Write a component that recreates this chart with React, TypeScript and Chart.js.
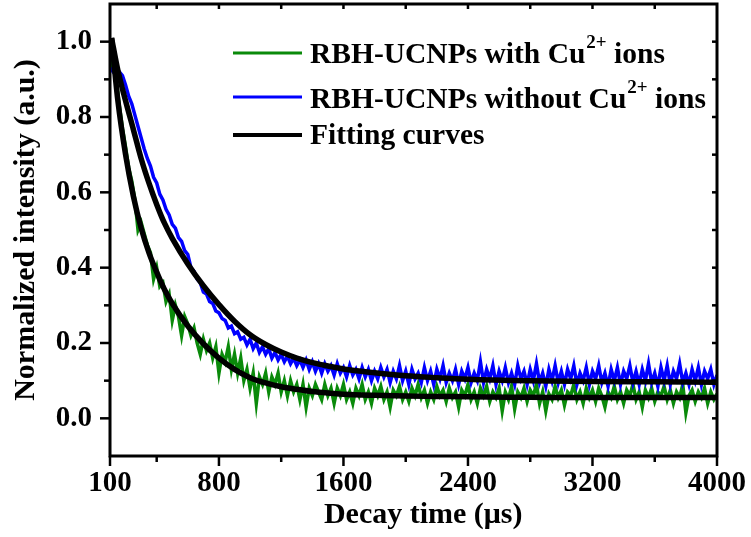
import React, { useEffect, useRef } from "react";
import { Chart, registerables } from "chart.js";

Chart.register(...registerables);

// sampling grid of the measured decays (µs)
const T_START = 100;
const T_STEP = 20;

// RBH-UCNPs with Cu2+ ions (green)
const GREEN_DATA = [
  0.95, 0.93, 0.9, 0.83, 0.77, 0.72, 0.665, 0.63, 0.58, 0.5,
  0.52, 0.49, 0.46, 0.44, 0.37, 0.4, 0.35, 0.36, 0.31, 0.33,
  0.26, 0.3, 0.27, 0.22, 0.27, 0.25, 0.22, 0.24, 0.2, 0.17,
  0.21, 0.18, 0.2, 0.16, 0.19, 0.12, 0.17, 0.15, 0.19, 0.13,
  0.17, 0.12, 0.16, 0.1, 0.13, 0.08, 0.12, 0.04, 0.11, 0.09,
  0.12, 0.07, 0.11, 0.09, 0.12, 0.07, 0.1, 0.06, 0.1, 0.07,
  0.09, 0.05, 0.09, 0.03, 0.08, 0.06, 0.09, 0.07, 0.05, 0.09,
  0.06, 0.08, 0.04, 0.08, 0.06, 0.09, 0.05, 0.07, 0.04, 0.08,
  0.06, 0.09, 0.05, 0.07, 0.04, 0.08, 0.06, 0.085, 0.05, 0.07,
  0.03, 0.075, 0.06, 0.085, 0.05, 0.07, 0.045, 0.08, 0.06, 0.09,
  0.055, 0.075, 0.04, 0.07, 0.05, 0.085, 0.06, 0.075, 0.045, 0.08,
  0.055, 0.07, 0.03, 0.075, 0.06, 0.09, 0.05, 0.07, 0.04, 0.08,
  0.06, 0.085, 0.045, 0.07, 0.055, 0.08, 0.02, 0.07, 0.05, 0.085,
  0.025, 0.07, 0.055, 0.08, 0.045, 0.075, 0.06, 0.09, 0.04, 0.07,
  0.02, 0.065, 0.05, 0.085, 0.055, 0.075, 0.035, 0.07, 0.06, 0.09,
  0.05, 0.07, 0.04, 0.08, 0.055, 0.075, 0.045, 0.08, 0.06, 0.03,
  0.07, 0.055, 0.085, 0.05, 0.07, 0.04, 0.075, 0.06, 0.09, 0.05,
  0.07, 0.03, 0.075, 0.055, 0.08, 0.045, 0.07, 0.06, 0.085, 0.05,
  0.075, 0.04, 0.07, 0.055, 0.09, 0.015, 0.06, 0.075, 0.045, 0.07,
  0.055, 0.08, 0.04, 0.07, 0.05, 0.065,
];

// RBH-UCNPs without Cu2+ ions (blue)
const BLUE_DATA = [
  0.93, 0.92, 0.93, 0.92, 0.91, 0.885, 0.855, 0.835, 0.805, 0.775,
  0.745, 0.715, 0.69, 0.67, 0.64, 0.625, 0.595, 0.58, 0.555, 0.54,
  0.515, 0.505, 0.48, 0.47, 0.445, 0.435, 0.4, 0.39, 0.37, 0.36,
  0.335, 0.33, 0.31, 0.305, 0.285, 0.28, 0.265, 0.26, 0.24, 0.245,
  0.225, 0.23, 0.21, 0.215, 0.195, 0.21, 0.185, 0.2, 0.175, 0.19,
  0.17, 0.185, 0.16, 0.175, 0.155, 0.17, 0.15, 0.165, 0.145, 0.16,
  0.14, 0.155, 0.135, 0.155, 0.13, 0.15, 0.125, 0.145, 0.12, 0.145,
  0.125, 0.14, 0.115, 0.145, 0.12, 0.135, 0.11, 0.14, 0.115, 0.13,
  0.105, 0.135, 0.11, 0.13, 0.1, 0.125, 0.105, 0.135, 0.11, 0.13,
  0.095, 0.125, 0.105, 0.14, 0.1, 0.125, 0.09, 0.13, 0.105, 0.12,
  0.095, 0.135, 0.1, 0.125, 0.09, 0.13, 0.105, 0.14, 0.095, 0.12,
  0.1, 0.13, 0.09, 0.125, 0.105, 0.135, 0.095, 0.12, 0.1, 0.15,
  0.095, 0.13, 0.105, 0.14, 0.09, 0.125, 0.1, 0.135, 0.095, 0.12,
  0.09, 0.14, 0.105, 0.125, 0.09, 0.13, 0.1, 0.145, 0.095, 0.12,
  0.085, 0.13, 0.1, 0.14, 0.095, 0.125, 0.09, 0.13, 0.105, 0.14,
  0.09, 0.12, 0.1, 0.135, 0.09, 0.125, 0.105, 0.14, 0.095, 0.12,
  0.085, 0.13, 0.1, 0.135, 0.09, 0.125, 0.105, 0.14, 0.095, 0.125,
  0.09, 0.13, 0.1, 0.145, 0.095, 0.12, 0.085, 0.135, 0.1, 0.14,
  0.09, 0.125, 0.105, 0.145, 0.095, 0.12, 0.09, 0.13, 0.1, 0.135,
  0.09, 0.125, 0.105, 0.13, 0.09, 0.115,
];

// Fitting curves
const FIT_T = [110, 150, 200, 250, 300, 350, 400, 450, 500, 600, 700, 800, 900, 1000, 1100, 1200, 1300, 1400, 1500, 1600, 1800, 2000, 2200, 2400, 2800, 3200, 3600, 4000];
const FIT_GREEN = [1.01, 0.845, 0.7, 0.59, 0.505, 0.44, 0.388, 0.342, 0.305, 0.245, 0.198, 0.16, 0.13, 0.108, 0.094, 0.084, 0.077, 0.071, 0.067, 0.064, 0.061, 0.059, 0.058, 0.057, 0.056, 0.055, 0.055, 0.055];
const FIT_BLUE = [1.01, 0.925, 0.843, 0.767, 0.69, 0.625, 0.568, 0.518, 0.478, 0.41, 0.352, 0.302, 0.258, 0.222, 0.196, 0.176, 0.16, 0.148, 0.139, 0.131, 0.121, 0.113, 0.108, 0.104, 0.1, 0.098, 0.097, 0.096];

const X_TICKS = [100, 800, 1600, 2400, 3200, 4000];
const X_MINOR_TICKS = [400, 1200, 2000, 2800, 3600];
const X_TOP_TICKS = [400, 800, 1200, 1600, 2000, 2400, 2800, 3200, 3600];
const Y_TICKS = [0, 0.2, 0.4, 0.6, 0.8, 1.0];
const Y_MINOR_TICKS = [0.1, 0.3, 0.5, 0.7, 0.9];
const Y_RIGHT_TICKS = [0, 0.1, 0.2, 0.3, 0.4, 0.5, 0.6, 0.7, 0.8, 0.9, 1.0];

const X_TITLE = "Decay time (μs)";
const Y_TITLE = "Normalized intensity (a.u.)";

const GREEN = "#0a8a0a";
const BLUE = "#0000ff";
const SERIF = '"Liberation Serif", "Times New Roman", serif';

const LEGEND_ROWS = [
  { color: GREEN, width: 3, parts: ["RBH-UCNPs with Cu", "2+", " ions"] },
  { color: BLUE, width: 3, parts: ["RBH-UCNPs without Cu", "2+", " ions"] },
  { color: "#000000", width: 4, parts: ["Fitting curves"] },
];

const framePlugin = {
  id: "framePlugin",
  afterDraw(chart: any) {
    const { ctx, chartArea: a, scales } = chart;
    const xs = scales.x;
    const ys = scales.y;
    ctx.save();
    ctx.strokeStyle = "#000";
    ctx.lineCap = "butt";
    const seg = (x1: number, y1: number, x2: number, y2: number) => {
      ctx.beginPath();
      ctx.moveTo(x1, y1);
      ctx.lineTo(x2, y2);
      ctx.stroke();
    };
    ctx.lineWidth = 2.5;
    X_TICKS.forEach((v) => {
      const p = xs.getPixelForValue(v);
      seg(p, a.bottom, p, a.bottom + 10);
    });
    X_MINOR_TICKS.forEach((v) => {
      const p = xs.getPixelForValue(v);
      seg(p, a.bottom, p, a.bottom + 6);
    });
    X_TOP_TICKS.forEach((v) => {
      const p = xs.getPixelForValue(v);
      seg(p, a.top, p, a.top + 5);
    });
    Y_TICKS.forEach((v) => {
      const p = ys.getPixelForValue(v);
      seg(a.left - 10, p, a.left, p);
    });
    Y_MINOR_TICKS.forEach((v) => {
      const p = ys.getPixelForValue(v);
      seg(a.left - 6, p, a.left, p);
    });
    Y_RIGHT_TICKS.forEach((v) => {
      const p = ys.getPixelForValue(v);
      seg(a.right - 5, p, a.right, p);
    });
    ctx.lineWidth = 3;
    ctx.strokeRect(a.left, a.top, a.right - a.left, a.bottom - a.top);

    // x axis title
    ctx.fillStyle = "#000";
    ctx.font = `bold 30px ${SERIF}`;
    ctx.textAlign = "center";
    ctx.textBaseline = "middle";
    ctx.fillText(X_TITLE, a.left + (a.right - a.left) * 0.516, a.bottom + 59);

    // legend
    const lineX1 = 233;
    const lineX2 = 302;
    const textX = 310;
    const rowsY = [53, 97, 135];
    const baseOff = [10, 11, 9];
    LEGEND_ROWS.forEach((row, i) => {
      ctx.strokeStyle = row.color;
      ctx.lineWidth = row.width;
      seg(lineX1, rowsY[i], lineX2, rowsY[i]);
      ctx.fillStyle = "#000";
      ctx.textBaseline = "alphabetic";
      ctx.textAlign = "left";
      let x = textX;
      const base = rowsY[i] + baseOff[i];
      row.parts.forEach((t, j) => {
        const sup = j === 1;
        ctx.font = sup ? `bold 19px ${SERIF}` : `bold 29.5px ${SERIF}`;
        ctx.fillText(t, x + (sup ? 1 : 0), sup ? base - 15 : base);
        x += ctx.measureText(t).width + (sup ? 1 : 0);
      });
    });
    ctx.restore();
  },
};

export default function App() {
  const ref = useRef<HTMLCanvasElement | null>(null);

  useEffect(() => {
    if (!ref.current) return;
    const green = GREEN_DATA.map((v, i) => ({ x: T_START + T_STEP * i, y: v }));
    const blue = BLUE_DATA.map((v, i) => ({ x: T_START + T_STEP * i, y: v }));
    const fitG = FIT_T.map((t, i) => ({ x: t, y: FIT_GREEN[i] }));
    const fitB = FIT_T.map((t, i) => ({ x: t, y: FIT_BLUE[i] }));
    const tickFont = { family: SERIF, size: 29, weight: "bold" as const };
    const titleFont = { family: SERIF, size: 30, weight: "bold" as const };

    const chart = new Chart(ref.current, {
      type: "line",
      data: {
        datasets: [
          { label: "fitG", data: fitG, borderColor: "#000", borderWidth: 5.5, pointRadius: 0, cubicInterpolationMode: "monotone", fill: false },
          { label: "fitB", data: fitB, borderColor: "#000", borderWidth: 5.5, pointRadius: 0, cubicInterpolationMode: "monotone", fill: false },
          { label: "blue", data: blue, borderColor: BLUE, borderWidth: 3.5, pointRadius: 0, tension: 0, fill: false },
          { label: "green", data: green, borderColor: GREEN, borderWidth: 3.5, pointRadius: 0, tension: 0, fill: false },
        ],
      },
      options: {
        responsive: false,
        animation: false,
        layout: { padding: { top: 4, right: 34, left: 0, bottom: 0 } },
        plugins: { legend: { display: false }, tooltip: { enabled: false } },
        scales: {
          x: {
            type: "linear",
            min: 100,
            max: 4000,
            afterBuildTicks: (s: any) => {
              s.ticks = X_TICKS.map((v) => ({ value: v }));
            },
            afterFit: (s: any) => {
              s.height = 81;
              s.paddingLeft = 0;
              s.paddingRight = 0;
              s.paddingTop = 0;
              s.paddingBottom = 0;
            },
            grid: { display: true, color: "rgba(0,0,0,0)", drawOnChartArea: false, drawTicks: true, tickLength: 10 },
            border: { display: false },
            ticks: { color: "#000", font: tickFont, padding: 0, maxRotation: 0, autoSkip: false, callback: (v: any) => String(v) },
            title: { display: false },
          },
          y: {
            type: "linear",
            min: -0.1,
            max: 1.1,
            afterBuildTicks: (s: any) => {
              s.ticks = Y_TICKS.map((v) => ({ value: v }));
            },
            afterFit: (s: any) => {
              s.width = 110;
              s.paddingTop = 0;
              s.paddingBottom = 0;
              s.paddingLeft = 0;
              s.paddingRight = 0;
            },
            grid: { display: true, color: "rgba(0,0,0,0)", drawOnChartArea: false, drawTicks: true, tickLength: 10 },
            border: { display: false },
            ticks: { color: "#000", font: tickFont, padding: 8, autoSkip: false, callback: (v: any) => Number(v).toFixed(1) },
            title: { display: true, text: Y_TITLE, color: "#000", font: titleFont, padding: { top: 8, bottom: 0 } },
          },
        },
      },
      plugins: [framePlugin],
    });
    return () => chart.destroy();
  }, []);

  return (
    <div style={{ position: "fixed", left: 0, top: 0, width: 751, height: 537, background: "#fff" }}>
      <canvas ref={ref} width={751} height={537} style={{ width: 751, height: 537, display: "block" }} />
    </div>
  );
}
